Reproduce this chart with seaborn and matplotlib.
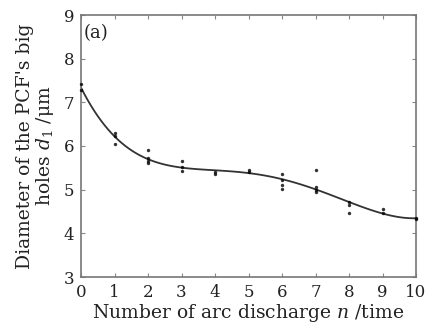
import numpy as np
import pandas as pd
import matplotlib
matplotlib.use("Agg")
import matplotlib.pyplot as plt
import seaborn as sns

# data
n_vals = [0, 0,
          1, 1, 1,
          2, 2, 2, 2,
          3, 3, 3,
          4, 4,
          5, 5,
          6, 6, 6, 6,
          7, 7, 7, 7,
          8, 8, 8,
          9, 9,
          10, 10]
d_vals = [7.42, 7.28,
          6.30, 6.22, 6.05,
          5.90, 5.72, 5.65, 5.60,
          5.65, 5.52, 5.42,
          5.40, 5.36,
          5.46, 5.40,
          5.36, 5.22, 5.10, 5.02,
          5.46, 5.05, 5.00, 4.95,
          4.72, 4.66, 4.46,
          4.55, 4.46,
          4.36, 4.32]
x_ticks = [0, 1, 2, 3, 4, 5, 6, 7, 8, 9, 10]
y_ticks = [3, 4, 5, 6, 7, 8, 9]

df = pd.DataFrame({"n": n_vals, "d": d_vals})

sns.set_theme(style="ticks")
plt.rcParams["font.family"] = ["DejaVu Serif"]
plt.rcParams["mathtext.fontset"] = "dejavuserif"

fig = plt.figure(figsize=(4.29, 3.28), dpi=100)
ax = fig.add_axes([81 / 429, 1 - 277 / 328, 335 / 429, 262 / 328])

sns.regplot(data=df, x="n", y="d", order=5, ci=None, ax=ax,
            scatter_kws=dict(s=6, color="black", linewidths=0, clip_on=False, zorder=3),
            line_kws=dict(color="#333333", lw=1.3),
            truncate=True)

ax.set_xlim(0, 10)
ax.set_ylim(3, 9)
ax.set_xticks(x_ticks)
ax.set_yticks(y_ticks)
ax.tick_params(axis="both", direction="in", top=True, right=True, length=3, width=0.8,
               labelsize=12, colors="#888888", labelcolor="#222222")
ax.tick_params(axis="x", pad=5)
ax.tick_params(axis="y", pad=5)
for s in ax.spines.values():
    s.set_color("#777777")
    s.set_linewidth(1.2)

ax.set_xlabel("Number of arc discharge $n$ /time", fontsize=13.5, labelpad=1, color="#222222")
ax.set_ylabel("Diameter of the PCF's big\nholes $d_1$ /μm", fontsize=13.5, labelpad=5,
              color="#222222", linespacing=1.0)
ax.text(0.008, 0.965, "(a)", transform=ax.transAxes, fontsize=13, va="top", ha="left", color="#222222")

fig.savefig("out.png", dpi=100)
